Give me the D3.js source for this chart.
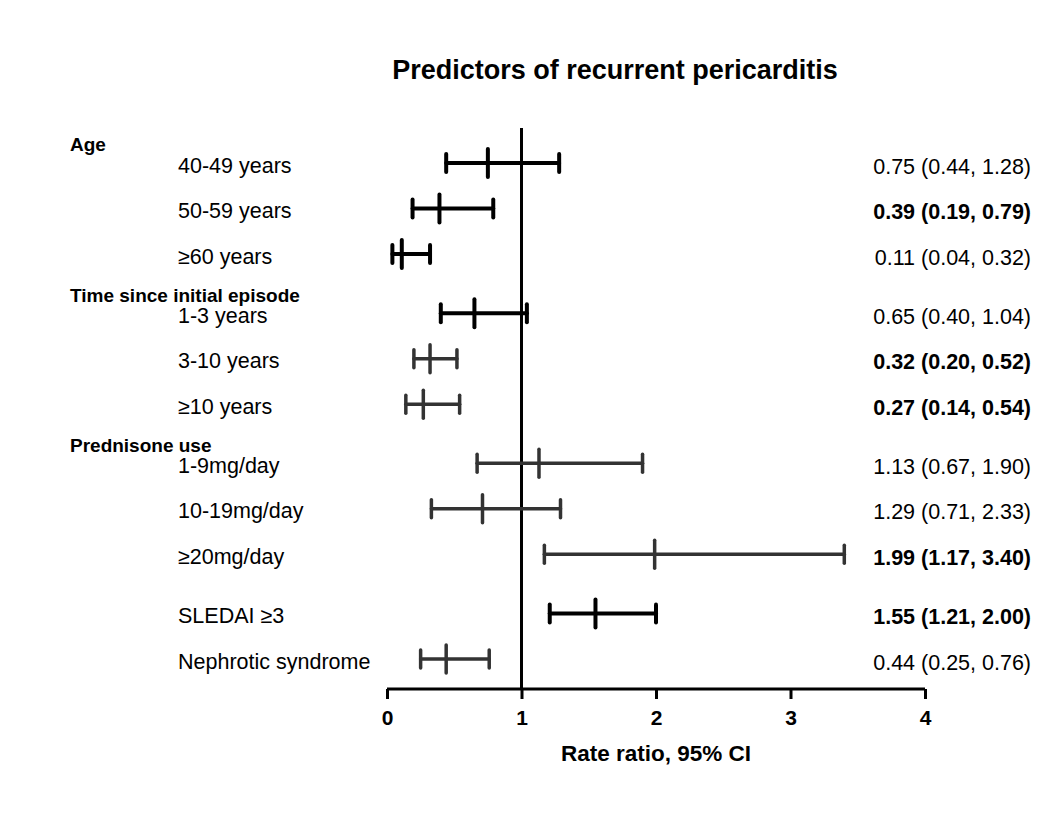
<!DOCTYPE html>
<html>
<head>
	<title>Predictors of recurrent pericarditis</title>
</head>
<body>

<svg class="forest"></svg>

<style type="text/css">
	body {
		margin: 0;
		background: #fff;
	}

	.forest {
		width: 1062px;
		height: 814px;
		font-family: "Liberation Sans", Arial, Helvetica, sans-serif;
	}

	.forest .bar {
		stroke-linecap: round;
		fill: none;
	}
</style>

<script src="https://cdn.jsdelivr.net/npm/d3@7"></script>
<script type="text/javascript">
	var groups = ['Age', 'Time since initial episode', 'Prednisone use', ''];
	var labels = ['40-49 years', '50-59 years', '\u226560 years',
		'1-3 years', '3-10 years', '\u226510 years',
		'1-9mg/day', '10-19mg/day', '\u226520mg/day',
		'SLEDAI \u22653', 'Nephrotic syndrome'];
	var groupOf = [0, 0, 0, 1, 1, 1, 2, 2, 2, 3, 3];
	// marks as drawn in the figure
	var rr = [0.75, 0.39, 0.11, 0.65, 0.32, 0.27, 1.13, 0.71, 1.99, 1.55, 0.44];
	var lo = [0.44, 0.19, 0.04, 0.40, 0.20, 0.14, 0.67, 0.33, 1.17, 1.21, 0.25];
	var hi = [1.28, 0.79, 0.32, 1.04, 0.52, 0.54, 1.90, 1.29, 3.40, 2.00, 0.76];
	// estimates as printed on the right
	var valueLabels = ['0.75 (0.44, 1.28)', '0.39 (0.19, 0.79)', '0.11 (0.04, 0.32)',
		'0.65 (0.40, 1.04)', '0.32 (0.20, 0.52)', '0.27 (0.14, 0.54)',
		'1.13 (0.67, 1.90)', '1.29 (0.71, 2.33)', '1.99 (1.17, 3.40)',
		'1.55 (1.21, 2.00)', '0.44 (0.25, 0.76)'];
	var xTicks = [0, 1, 2, 3, 4];

	// styling as in the original figure
	var boldRows = [1, 4, 5, 8, 9];
	var blackRows = [0, 1, 2, 3, 9];

	(function() {
		'use strict'

		var svg = d3.select('.forest')
			.attr('viewBox', [0, 0, 1062, 814])

		var x = d3.scaleLinear().domain([0, 4]).range([387, 925])

		// row slot: one per row plus a small gap between groups
		var slot = function(i) { return i + 0.3 * groupOf[i] }
		var y = d3.scaleLinear().domain([0, 10.9]).range([163, 659])

		var rows = labels.map(function(d, i) {
			return {
				label: d, value: valueLabels[i],
				rr: rr[i], lo: lo[i], hi: hi[i],
				y: y(slot(i)),
				bold: boldRows.indexOf(i) >= 0,
				black: blackRows.indexOf(i) >= 0
			}
		})

		svg.append('text')
			.attr('x', 615)
			.attr('y', 79)
			.attr('text-anchor', 'middle')
			.style('font-weight', 'bold')
			.style('font-size', '27px')
			.text('Predictors of recurrent pericarditis')

		// group headings
		groups.forEach(function(g, gi) {
			if (!g) return
			var first = groupOf.indexOf(gi)
			svg.append('text')
				.attr('x', 70)
				.attr('y', y(slot(first) - 0.4))
				.attr('dy', '0.35em')
				.style('font-weight', 'bold')
				.style('font-size', '19px')
				.text(g)
		})

		// row labels
		svg.selectAll('.label')
			.data(rows)
			.enter()
			.append('text')
			.attr('class', 'label')
			.attr('x', 178)
			.attr('y', function(d) { return d.y + 2 })
			.attr('dy', '0.35em')
			.style('font-size', '21.5px')
			.text(function(d) { return d.label })

		// values
		svg.selectAll('.value')
			.data(rows)
			.enter()
			.append('text')
			.attr('class', 'value')
			.attr('x', 1031)
			.attr('y', function(d) { return d.y + 3 })
			.attr('dy', '0.35em')
			.attr('text-anchor', 'end')
			.style('font-size', '21.5px')
			.style('font-weight', function(d) { return d.bold ? 'bold' : 'normal' })
			.text(function(d) { return d.value })

		// reference line at 1
		svg.append('line')
			.attr('x1', x(1)).attr('x2', x(1))
			.attr('y1', 128).attr('y2', 689)
			.attr('stroke', '#000')
			.attr('stroke-width', 3)

		// CI bars
		var bars = svg.selectAll('.bar')
			.data(rows)
			.enter()
			.append('g')
			.attr('class', 'bar')
			.attr('stroke', function(d) { return d.black ? '#000' : '#333' })
			.attr('stroke-width', function(d) { return d.black ? 4 : 3.5 })

		bars.append('line')
			.attr('x1', function(d) { return x(d.lo) })
			.attr('x2', function(d) { return x(d.hi) })
			.attr('y1', function(d) { return d.y })
			.attr('y2', function(d) { return d.y })

		bars.append('line')
			.attr('x1', function(d) { return x(d.lo) })
			.attr('x2', function(d) { return x(d.lo) })
			.attr('y1', function(d) { return d.y - 9 })
			.attr('y2', function(d) { return d.y + 9 })

		bars.append('line')
			.attr('x1', function(d) { return x(d.hi) })
			.attr('x2', function(d) { return x(d.hi) })
			.attr('y1', function(d) { return d.y - 9 })
			.attr('y2', function(d) { return d.y + 9 })

		bars.append('line')
			.attr('x1', function(d) { return x(d.rr) })
			.attr('x2', function(d) { return x(d.rr) })
			.attr('y1', function(d) { return d.y - 14 })
			.attr('y2', function(d) { return d.y + 14 })

		// x axis
		var axis = svg.append('g')
			.attr('transform', 'translate(0,689)')
			.call(d3.axisBottom(x).tickValues(xTicks).tickSize(10).tickPadding(11).tickFormat(d3.format('d')))

		axis.select('.domain')
			.attr('d', 'M' + x(0) + ',0H' + x(4))
			.attr('stroke', '#000')
			.attr('stroke-width', 3)
		axis.selectAll('.tick line')
			.attr('stroke', '#000')
			.attr('stroke-width', 3)
		axis.selectAll('.tick text')
			.attr('fill', '#000')
			.style('font-family', '"Liberation Sans", Arial, sans-serif')
			.style('font-size', '21px')
			.style('font-weight', 'bold')

		svg.append('text')
			.attr('x', 656)
			.attr('y', 761)
			.attr('text-anchor', 'middle')
			.style('font-weight', 'bold')
			.style('font-size', '22.5px')
			.text('Rate ratio, 95% CI')

	})()
</script>
</body>
</html>
